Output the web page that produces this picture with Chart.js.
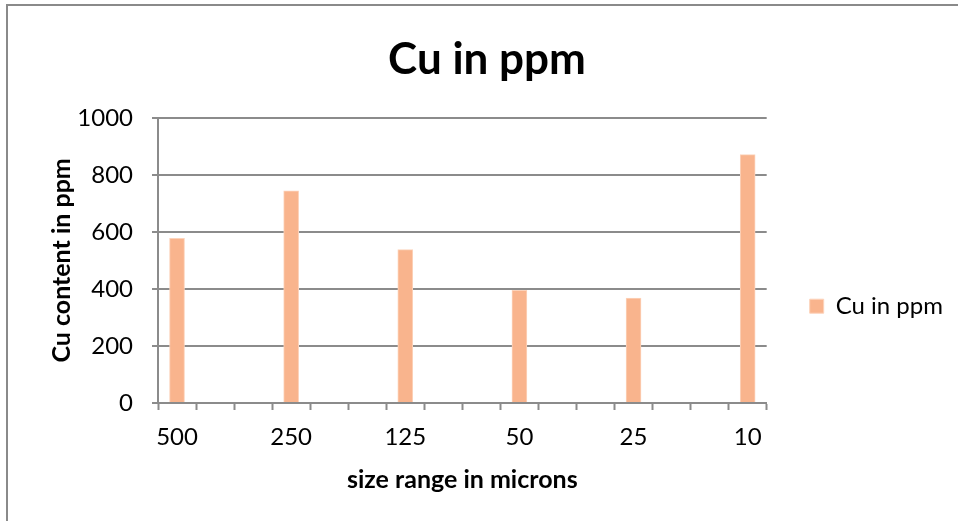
<!DOCTYPE html>
<html lang="en">
<head>
    <meta charset="UTF-8">
    <title>Cu in ppm</title>
    <script src="https://cdn.jsdelivr.net/npm/chart.js"></script>
    <style>
        html, body {
            margin: 0;
            padding: 0;
            background: #ffffff;
            overflow: hidden;
        }
        .chart-box {
            position: relative;
            width: 958px;
            height: 521px;
        }
    </style>
</head>
<body>
    <div class="chart-box">
        <canvas id="cuChart"></canvas>
    </div>

    <script>
        // Sieve fractions (microns) and copper content (ppm)
        const sizeRanges = ['500', '250', '125', '50', '25', '10'];
        const cuPpm = [577, 744, 538, 395, 368, 871];
        const yTicks = [0, 200, 400, 600, 800, 1000];
        // each fraction sits on every third slot of the axis
        const slotStep = 3;

        const slotCount = (sizeRanges.length - 1) * slotStep + 1;
        const slotLabels = [];
        const slotValues = [];
        for (let i = 0; i < slotCount; i++) {
            const k = i / slotStep;
            const filled = i % slotStep === 0;
            slotLabels.push(filled ? sizeRanges[k] : '');
            slotValues.push(filled ? cuPpm[k] : null);
        }

        const gridGrey = '#8b8b8b';
        const baseFont = 'Lato, "Liberation Sans", sans-serif';

        // grey frame around the whole chart
        const framePlugin = {
            id: 'frame',
            beforeDraw(chart) {
                const ctx = chart.ctx;
                ctx.save();
                ctx.fillStyle = '#ffffff';
                ctx.fillRect(0, 0, chart.width, chart.height);
                ctx.strokeStyle = '#8a8a8a';
                ctx.lineWidth = 2;
                ctx.strokeRect(7, 5, chart.width + 20, chart.height + 20);
                ctx.restore();
            }
        };

        new Chart(document.getElementById('cuChart'), {
            type: 'bar',
            data: {
                labels: slotLabels,
                datasets: [{
                    label: 'Cu in ppm',
                    data: slotValues,
                    backgroundColor: '#f9b48d',
                    borderColor: '#fcd3bb',
                    borderWidth: 1,
                    barThickness: 15
                }]
            },
            options: {
                responsive: true,
                maintainAspectRatio: false,
                animation: false,
                layout: {
                    padding: { left: 21, right: 5, top: 8, bottom: 0 }
                },
                plugins: {
                    title: {
                        display: true,
                        text: 'Cu in ppm',
                        color: '#000000',
                        font: { family: baseFont, size: 44, weight: 'bold' },
                        padding: { top: 25, bottom: 32 }
                    },
                    legend: {
                        position: 'right',
                        maxWidth: 191,
                        title: {
                            display: true,
                            text: '',
                            font: { size: 12 },
                            padding: { top: 35, bottom: 34 }
                        },
                        labels: {
                            color: '#000000',
                            boxWidth: 14,
                            boxHeight: 14,
                            padding: 43,
                            font: { family: baseFont, size: 24 }
                        }
                    },
                    tooltip: { enabled: false }
                },
                scales: {
                    x: {
                        offset: true,
                        afterFit(scale) { scale.height = 118; },
                        grid: {
                            display: true,
                            offset: true,
                            drawOnChartArea: false,
                            drawTicks: true,
                            tickLength: 7,
                            tickWidth: 2,
                            tickColor: gridGrey
                        },
                        border: { display: true, color: gridGrey, width: 2 },
                        ticks: {
                            autoSkip: false,
                            maxRotation: 0,
                            color: '#000000',
                            padding: 13,
                            font: { family: baseFont, size: 24 }
                        },
                        title: {
                            display: true,
                            text: 'size range in microns',
                            color: '#000000',
                            font: { family: baseFont, size: 25, weight: 'bold' },
                            padding: { top: 0, bottom: 26 }
                        }
                    },
                    y: {
                        min: yTicks[0],
                        max: yTicks[yTicks.length - 1],
                        afterFit(scale) { scale.width = 137; },
                        ticks: {
                            stepSize: yTicks[1] - yTicks[0],
                            color: '#000000',
                            padding: 19,
                            font: { family: baseFont, size: 24 },
                            callback: (value) => String(value)
                        },
                        grid: {
                            color: gridGrey,
                            lineWidth: 2,
                            tickLength: 6,
                            tickColor: gridGrey
                        },
                        border: { display: true, color: gridGrey, width: 2 },
                        title: {
                            display: true,
                            text: 'Cu content in ppm',
                            color: '#000000',
                            font: { family: baseFont, size: 25, weight: 'bold' },
                            padding: { top: 26, bottom: 0 }
                        }
                    }
                }
            },
            plugins: [framePlugin]
        });
    </script>
</body>
</html>
